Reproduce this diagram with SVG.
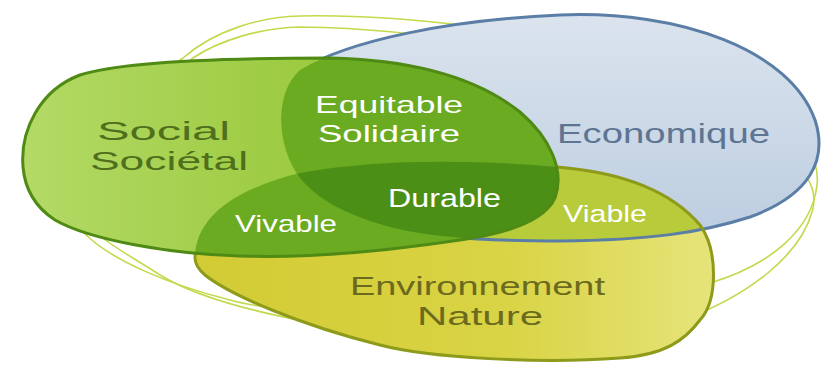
<svg xmlns="http://www.w3.org/2000/svg" width="821" height="367" viewBox="0 0 821 367">
<style>
.ring{fill:none;stroke:#c3d94c;stroke-width:1.6}
.lbl{font-family:"Liberation Sans","Noto Sans",sans-serif;font-weight:400}
.w{fill:#ffffff}
.soc{fill:#4f6f1c}
.eco{fill:#5d7592}
.env{fill:#6b6a1e}
</style>
<defs>
<path id="pBlue" d="M300,178 C278,150 272,95 300,70 C350,40 450,20 560,15 C680,10 790,50 815,120 C828,160 810,195 750,217 C700,233 650,240 560,241 C500,241 440,238 403,230 C350,218 318,200 300,178 Z"/>
<path id="pYel" d="M195,258 C195,220 230,190 300,173 C380,158 480,160 557,167 C620,172 670,190 700,225 C718,250 718,300 700,320 C685,340 665,355 620,358 C540,364 430,358 380,345 C300,325 230,295 205,275 C197,268 195,263 195,258 Z"/>
<path id="pGrn" d="M23,167 C20,130 40,90 80,75 C120,62 220,58 330,58 C420,60 480,80 520,112 C550,138 565,170 555,198 C545,220 510,233 460,240 C380,252 300,258 240,256 C170,254 90,240 55,220 C35,207 25,190 23,167 Z"/>
<clipPath id="cBlue"><use href="#pBlue"/></clipPath>
<clipPath id="cYel"><use href="#pYel"/></clipPath>
<clipPath id="cGrn"><use href="#pGrn"/></clipPath>
<linearGradient id="gBlue" x1="0" y1="0" x2="0" y2="1">
<stop offset="0" stop-color="#dbe4ee"/><stop offset="1" stop-color="#bccde0"/>
</linearGradient>
<linearGradient id="gYel" x1="0" y1="0" x2="1" y2="0">
<stop offset="0" stop-color="#d3cb34"/><stop offset="0.6" stop-color="#d9d445"/><stop offset="1" stop-color="#e6e47a"/>
</linearGradient>
<linearGradient id="gGrn" x1="0" y1="0" x2="1" y2="0">
<stop offset="0" stop-color="#b3da66"/><stop offset="0.5" stop-color="#9dcb42"/><stop offset="1" stop-color="#93c437"/>
</linearGradient>
</defs>

<g id="rings">
<path class="ring" d="M183,58 C215,30 260,17 300,16 C500,12 830,80 817,185 C812,230 770,265 710,283 C560,325 300,320 230,300 C170,285 110,260 83,232 C50,180 120,100 183,58 Z"/>
<path class="ring" d="M193,58 C220,40 260,28 300,27 C560,30 840,130 812,212 C800,255 750,295 683,320 C520,360 250,330 160,275 C140,262 115,248 100,236 C65,180 140,100 193,58 Z"/>
</g>

<g id="economique">
<use href="#pBlue" fill="url(#gBlue)"/>
</g>
<g id="environnement">
<use href="#pYel" fill="url(#gYel)"/>
</g>
<g id="viable">
<use href="#pYel" clip-path="url(#cBlue)" fill="#b7cb3b"/>
</g>
<g id="outlines-be">
<use href="#pBlue" fill="none" stroke="#5b7ea6" stroke-width="3"/>
<use href="#pYel" fill="none" stroke="#8d9a1a" stroke-width="3"/>
</g>
<g id="social">
<use href="#pGrn" fill="url(#gGrn)"/>
</g>
<g id="equitable">
<use href="#pBlue" clip-path="url(#cGrn)" fill="#6aab22"/>
</g>
<g id="vivable">
<use href="#pYel" clip-path="url(#cGrn)" fill="#6aab22"/>
</g>
<g id="durable" clip-path="url(#cGrn)">
<use href="#pYel" clip-path="url(#cBlue)" fill="#4c8f16"/>
</g>
<g id="social-outline">
<use href="#pGrn" fill="none" stroke="#4f8a14" stroke-width="3"/>
</g>

<g id="labels">
<text class="lbl soc" x="97" y="140" font-size="26" textLength="133" lengthAdjust="spacingAndGlyphs">Social</text>
<text class="lbl soc" x="90" y="170" font-size="26" textLength="158" lengthAdjust="spacingAndGlyphs">Sociétal</text>
<text class="lbl w" x="315" y="113" font-size="24" textLength="148" lengthAdjust="spacingAndGlyphs">Equitable</text>
<text class="lbl w" x="318" y="142" font-size="24" textLength="142" lengthAdjust="spacingAndGlyphs">Solidaire</text>
<text class="lbl w" x="388" y="207" font-size="25" textLength="113" lengthAdjust="spacingAndGlyphs">Durable</text>
<text class="lbl w" x="235" y="232" font-size="24" textLength="102" lengthAdjust="spacingAndGlyphs">Vivable</text>
<text class="lbl w" x="563" y="222" font-size="24" textLength="84" lengthAdjust="spacingAndGlyphs">Viable</text>
<text class="lbl eco" x="557" y="143" font-size="28" textLength="213" lengthAdjust="spacingAndGlyphs">Economique</text>
<text class="lbl env" x="350" y="295" font-size="26" textLength="255" lengthAdjust="spacingAndGlyphs">Environnement</text>
<text class="lbl env" x="417" y="325" font-size="26" textLength="126" lengthAdjust="spacingAndGlyphs">Nature</text>
</g>
</svg>
